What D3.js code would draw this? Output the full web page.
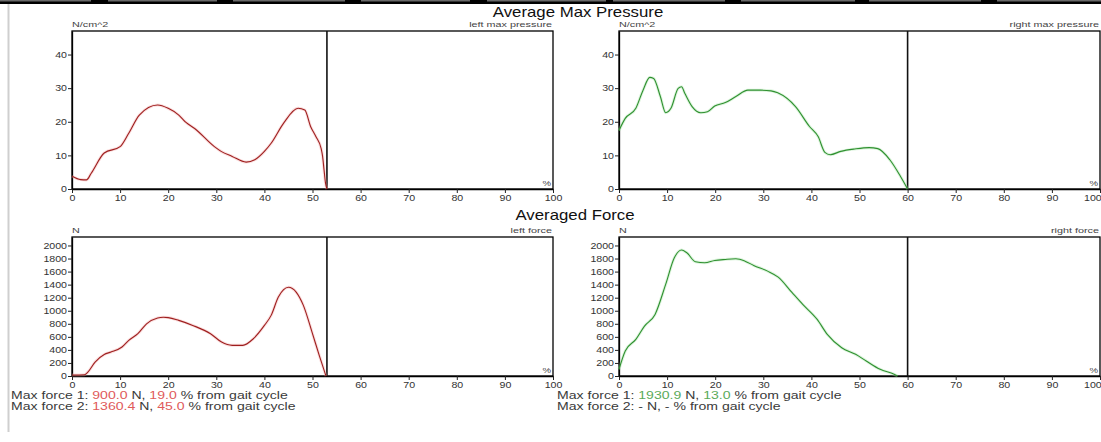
<!DOCTYPE html>
<html>
<head>
<meta charset="utf-8">
<script src="https://cdn.jsdelivr.net/npm/d3@7"></script>
<style>
  body { margin: 0; background: #fff; }
  svg { display: block; font-family: "Liberation Sans", Arial, sans-serif; }
</style>
</head>
<body>
<script>
//Width and height
var w = 1101;
var h = 442;

// [% of gait cycle, value]
var leftPressure = [
  [0, 3.8], [1.8, 2.8], [3, 2.7], [4, 4.7], [6.7, 10.7], [10, 12.6], [11.8, 16.6],
  [14, 22], [17.8, 25], [20, 24], [22.2, 22], [23.7, 19.8], [25.5, 18], [29.6, 12.6],
  [31, 11.2], [33.3, 9.7], [36.2, 8], [38, 8.7], [40, 11.2], [41.4, 13.6], [44, 19.6],
  [47, 24], [48.4, 23.5], [49.6, 18.6], [50.7, 15.6], [51.8, 12], [52.1, 9.7],
  [52.4, 5.7], [52.7, 1.8], [53, 0]
];
var rightPressure = [
  [0, 17.4], [1.3, 21], [3.5, 24], [5, 29.4], [6.4, 33.2], [7.2, 32.9], [8.6, 27.5],
  [9.7, 22.7], [10.8, 24], [12.3, 29.9], [13, 30.4], [13.7, 28.4], [15.2, 24.5],
  [17, 22.7], [18.4, 23], [19.9, 24.7], [22.1, 25.7], [24.3, 27.5], [26.8, 29.4],
  [29.4, 29.4], [31.6, 29.2], [33, 28.6], [36.7, 24.5], [39.6, 18.6], [41.4, 15.6],
  [42.8, 10.9], [43.9, 10.2], [46.1, 11.2], [49, 11.9], [52, 12.3], [53.8, 12],
  [56.3, 8.7], [58.5, 3.8], [60, 0]
];
var leftForce = [
  [0, 15], [2.6, 20], [3.3, 60], [4.8, 214], [6.7, 330], [8.1, 367], [10.4, 444],
  [11.8, 546], [13.7, 648], [15.5, 800], [17.8, 888], [19, 900], [20, 895], [22.2, 852],
  [25.1, 775], [28.8, 648], [31.1, 520], [33.3, 470], [35.5, 470], [37.7, 571],
  [40, 775], [41.4, 929], [42.9, 1209], [45, 1360], [46.6, 1286], [48.1, 1082],
  [49.9, 673], [51.4, 316], [52.8, 0]
];
var rightForce = [
  [0, 102], [1.3, 383], [3.5, 561], [5.3, 765], [7.5, 944], [9.7, 1403], [11.5, 1811],
  [13, 1931], [14.1, 1888], [15.9, 1750], [17.8, 1735], [19.9, 1770], [22.1, 1786],
  [24.3, 1796], [26.2, 1760], [28, 1694], [30.9, 1607], [33.1, 1515], [36, 1276],
  [38.2, 1097], [41.2, 867], [43.3, 638], [46.3, 434], [49.2, 332], [51.4, 230],
  [54.3, 102], [57.2, 26], [57.9, 0]
];

// end of stance (vertical line) for each foot
var leftStop = 53;
var rightStop = 60;

var xTicks = [0, 10, 20, 30, 40, 50, 60, 70, 80, 90, 100];
var pressureTicks = [0, 10, 20, 30, 40];
var forceTicks = [0, 200, 400, 600, 800, 1000, 1200, 1400, 1600, 1800, 2000];

var leftLines = [
  ["Max force 1: ", "900.0", " N, ", "19.0", " % from gait cycle"],
  ["Max force 2: ", "1360.4", " N, ", "45.0", " % from gait cycle"]
];
var rightLines = [
  ["Max force 1: ", "1930.9", " N, ", "13.0", " % from gait cycle"],
  ["Max force 2: ", "-", " N, ", "-", " % from gait cycle"]
];

var red = "#9e1f1f";
var green = "#2f9030";

//Create SVG element
var svg = d3.select("body").append("svg").attr("width", w).attr("height", h);

// window bits round the chart (toolbar strip + left border)
svg.append("rect").attr("x", 0).attr("y", 0).attr("width", w).attr("height", 4).attr("fill", "#000");
[[0, 91], [108, 217], [233, 345], [361, 470], [487, 606], [613, 725], [741, 855], [869, 981], [997, 1101]]
  .forEach(function (s) {
    svg.append("rect").attr("x", s[0]).attr("y", 0).attr("width", s[1] - s[0]).attr("height", 1.5)
      .attr("fill", "#6a6a6a");
  });
svg.append("line").attr("x1", 8.5).attr("x2", 8.5).attr("y1", 4).attr("y2", 432)
  .attr("stroke", "#cfcfcf").attr("stroke-width", 2);

// text is a bit wider than normal in the screenshot
function label(g, txt, x, y, size, anchor, sx) {
  return g.append("text")
    .attr("transform", "translate(" + x + "," + y + ") scale(" + sx + ",1)")
    .attr("text-anchor", anchor)
    .attr("font-size", size)
    .attr("fill", "#222")
    .text(txt);
}

label(svg, "Average Max Pressure", 578, 16.5, 14, "middle", 1.2).attr("fill", "#111");
label(svg, "Averaged Force", 575, 220, 14, "middle", 1.2).attr("fill", "#111");

function drawPanel(p) {
  var g = svg.append("g");

  var xScale = d3.scaleLinear().domain([0, 100]).range([p.x0, p.x1]);
  var yScale = d3.scaleLinear().domain(p.yDomain).range([p.y1, p.y0]);

  //frame
  g.append("rect")
    .attr("x", p.x0).attr("y", p.y0)
    .attr("width", p.x1 - p.x0).attr("height", p.y1 - p.y0)
    .attr("fill", "none").attr("stroke", "#000").attr("stroke-width", 1.3);

  var xAxis = g.append("g")
    .attr("transform", "translate(0," + p.y1 + ")")
    .call(d3.axisBottom(xScale).tickValues(xTicks).tickSize(4).tickSizeOuter(0).tickPadding(2));
  xAxis.selectAll("text").attr("font-size", 8.5).attr("fill", "#333")
    .attr("font-family", "Liberation Sans, Arial, sans-serif")
    .attr("transform", "scale(1.25,1)");
  // last label would run off the window on the right side
  if (p.x1 > w - 10) {
    xAxis.selectAll("text").filter(function (d) { return d === 100; })
      .attr("text-anchor", "end").attr("x", 1);
  }

  var yAxis = g.append("g")
    .attr("transform", "translate(" + p.x0 + ",0)")
    .call(d3.axisLeft(yScale).tickValues(p.yTicks).tickFormat(d3.format("d"))
      .tickSize(4).tickSizeOuter(0).tickPadding(1));
  yAxis.selectAll("text").attr("font-size", 8.5).attr("fill", "#333")
    .attr("font-family", "Liberation Sans, Arial, sans-serif")
    .attr("x", -5 / 1.25)
    .attr("transform", "scale(1.25,1)");

  g.selectAll(".domain").attr("stroke", "#000").attr("stroke-width", 1.3);
  g.selectAll(".tick line").attr("stroke", "#222");

  //small labels
  label(g, p.unit, p.x0, p.y0 - 4, 8, "start", 1.35).attr("fill", "#444");
  label(g, p.name, p.x1 - 1, p.y0 - 4, 8, "end", 1.35).attr("fill", "#444");
  label(g, "%", p.x1 - 2, p.y1 - 3, 8, "end", 1.2).attr("fill", "#444");

  //end of stance
  g.append("line")
    .attr("x1", xScale(p.stop)).attr("x2", xScale(p.stop))
    .attr("y1", p.y0).attr("y2", p.y1)
    .attr("stroke", "#111").attr("stroke-width", 1.6);

  var line = d3.line()
    .x(function (d) { return xScale(d[0]); })
    .y(function (d) { return yScale(d[1]); })
    .curve(d3.curveMonotoneX);

  // soft halo like the jpeg, then the curve
  g.append("path").datum(p.data)
    .attr("d", line).attr("fill", "none")
    .attr("stroke", p.halo).attr("stroke-width", 3).attr("stroke-opacity", 0.35);
  g.append("path").datum(p.data)
    .attr("d", line).attr("fill", "none")
    .attr("stroke", p.color).attr("stroke-width", 1.1);
}

drawPanel({ x0: 72, x1: 553, y0: 31, y1: 189, yDomain: [0, 47], yTicks: pressureTicks,
  data: leftPressure, color: red, halo: "#f0a0a0", stop: leftStop,
  unit: "N/cm^2", name: "left max pressure" });
drawPanel({ x0: 619, x1: 1100, y0: 31, y1: 189, yDomain: [0, 47], yTicks: pressureTicks,
  data: rightPressure, color: green, halo: "#9ee09e", stop: rightStop,
  unit: "N/cm^2", name: "right max pressure" });
drawPanel({ x0: 72, x1: 553, y0: 237, y1: 376, yDomain: [0, 2130], yTicks: forceTicks,
  data: leftForce, color: red, halo: "#f0a0a0", stop: leftStop,
  unit: "N", name: "left force" });
drawPanel({ x0: 619, x1: 1100, y0: 237, y1: 376, yDomain: [0, 2130], yTicks: forceTicks,
  data: rightForce, color: green, halo: "#9ee09e", stop: rightStop,
  unit: "N", name: "right force" });

//Max force text under the force charts
function maxText(lines, x, hl) {
  lines.forEach(function (parts, i) {
    var t = label(svg, "", x, 398.5 + i * 11.5, 10.5, "start", 1.34).attr("fill", "#3a3a3a");
    t.selectAll("tspan")
      .data(parts)
      .enter()
      .append("tspan")
      .text(function (d) { return d; })
      .attr("fill", function (d, j) {
        return (j === 1 || j === 3) && d !== "-" ? hl : "#3a3a3a";
      });
  });
}
maxText(leftLines, 11, "#e05a5a");
maxText(rightLines, 557, "#5aab5a");
</script>
</body>
</html>
